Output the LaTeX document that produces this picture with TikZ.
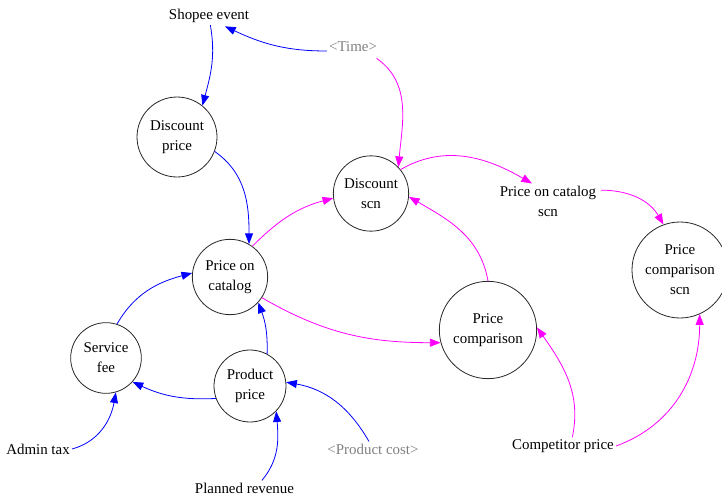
\documentclass[tikz,border=0pt]{standalone}
\usepackage{fontspec}
\setmainfont{Liberation Serif}
\usetikzlibrary{arrows.meta}
\definecolor{lnkblue}{RGB}{0,0,255}
\definecolor{lnkpink}{RGB}{255,0,255}
\definecolor{shadow}{RGB}{128,128,128}
\begin{document}
\begin{tikzpicture}[x=0.75pt,y=0.75pt,
  every node/.style={font=\fontsize{11.2}{15}\selectfont, align=center},
  stock/.style={circle, draw=black!85, line width=0.6pt, inner sep=0pt},
  plain/.style={inner sep=1.5pt},
  ghost/.style={plain, text=shadow},
  link/.style={line width=0.6pt, -{Triangle[length=8pt,width=6pt]}},
  blink/.style={link, draw=lnkblue},
  plink/.style={link, draw=lnkpink}]
\useasboundingbox (0,0) rectangle (722,-496);

% variables drawn as circles
\node[stock, minimum size=60pt] (dp)  at (177,-137) {Discount\\price};
\node[stock, minimum size=56.5pt] (ds) at (371,-193.5) {Discount\\scn};
\node[stock, minimum size=72pt] (pcs) at (680,-270) {Price\\comparison\\scn};
\node[stock, minimum size=56.5pt] (poc) at (230,-277) {Price on\\catalog};
\node[stock, minimum size=53pt] (sf)  at (106,-358) {Service\\fee};
\node[stock, minimum size=54pt] (pp)  at (250,-386) {Product\\price};
\node[stock, minimum size=73pt] (pc)  at (488,-330) {Price\\comparison};

% plain and shadow variables
\node[plain] (se)  at (209,-16) {Shopee event};
\node[ghost] (tm)  at (353,-47) {<Time>};
\node[plain] (pos) at (548,-201) {Price on catalog\\scn};
\node[plain] (at)  at (38,-449) {Admin tax};
\node[ghost] (cost) at (373,-449) {<Product cost>};
\node[plain] (pr)  at (244.5,-488) {Planned revenue};
\node[plain] (cp)  at (563,-446) {Competitor price};

% blue links
\draw[blink] ([yshift=-3pt]tm.west) to[out=180,in=-25] ([xshift=12pt,yshift=-1pt]se.south);
\draw[blink] ([xshift=1pt]se.south) to[out=-80,in=75] (dp.51);
\draw[blink] (dp.-21) to[out=-35,in=90] (poc.60);
\draw[blink] (sf.72) to[out=60,in=195] (poc.174);
\draw[blink] (pp.62) to[out=88,in=-70] (poc.-42);
\draw[blink] (pp.200) to[out=183,in=-25] (sf.-42);
\draw[blink] (at.east) to[out=15,in=-100] (sf.-74);
\draw[blink] ([xshift=13pt]pr.north) to[out=50,in=-85] (pp.-44);
\draw[blink] ([xshift=-3pt]cost.north) to[out=120,in=-10] (pp.6);

% pink links
\draw[plink] ([xshift=-2pt,yshift=-3pt]tm.south east) to[out=-35,in=85] (ds.44);
\draw[plink] (ds.39) to[out=30,in=150] ([xshift=-12pt]pos.north);
\draw[plink] ([yshift=-5pt,xshift=2pt]pos.north east) to[out=0,in=120] (pcs.110);
\draw[plink] (poc.54) to[out=45,in=195] (ds.187);
\draw[plink] (pc.90) to[out=100,in=-30] (ds.-5);
\draw[plink] (poc.-33) to[out=-30,in=180] (pc.195);
\draw[plink] ([xshift=7pt]cp.north) to[out=78,in=-55] (pc.3);
\draw[plink] (cp.east) to[out=20,in=-90] (pcs.-66);
\end{tikzpicture}
\end{document}
